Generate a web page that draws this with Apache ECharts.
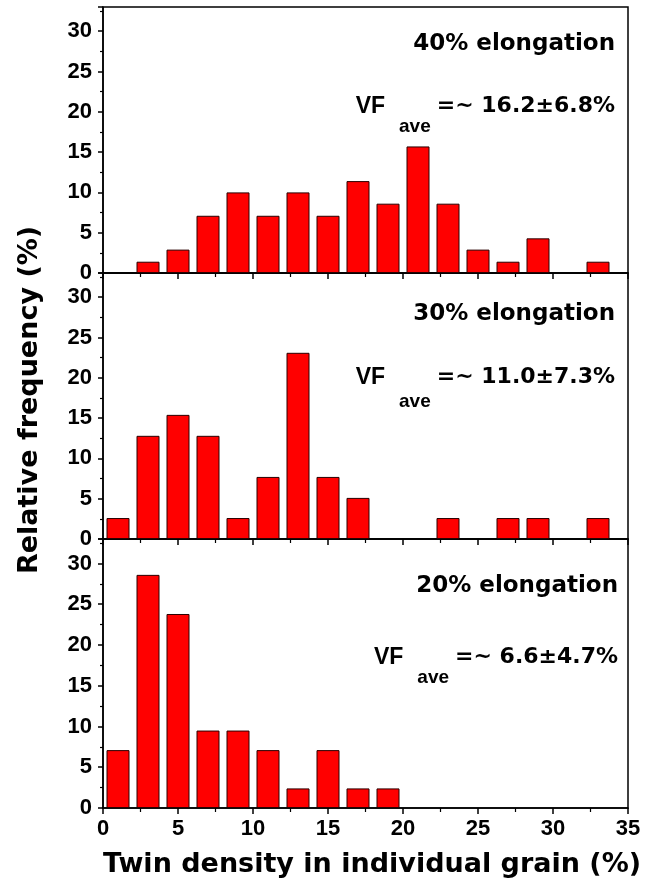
<!DOCTYPE html>
<html>
<head>
<meta charset="utf-8">
<script src="https://cdn.jsdelivr.net/npm/echarts@6/dist/echarts.min.js"></script>
<style>
  html, body { margin: 0; padding: 0; background: #ffffff; }
  #chart { width: 658px; height: 893px; }
</style>
</head>
<body>
<div id="chart"></div>
<script>
// Histogram bins: twin density (%) per grain, bin centres (bin width 2 %)
const binCenters = [1, 3, 5, 7, 9, 11, 13, 15, 17, 19, 21, 23, 25, 27, 29, 31, 33];

// Relative frequency (%) in each bin
const elong40 = [0, 1.4, 2.9, 7.1, 10.0, 7.1, 10.0, 7.1, 11.4, 8.6, 15.7, 8.6, 2.9, 1.4, 4.3, 0, 1.4];
const elong30 = [2.6, 12.8, 15.4, 12.8, 2.6, 7.7, 23.1, 7.7, 5.1, 0, 0, 2.6, 0, 2.6, 2.6, 0, 2.6];
const elong20 = [7.1, 28.6, 23.8, 9.5, 9.5, 7.1, 2.4, 7.1, 2.4, 2.4, 0, 0, 0, 0, 0, 0, 0];

// Panel captions and mean twin volume fraction
const panelLabels = ['40% elongation', '30% elongation', '20% elongation'];
const vfAverages = ['16.2±6.8%', '11.0±7.3%', '6.6±4.7%'];

// Axis ranges and tick steps
const xMin = 0, xMax = 35, xStep = 5;
const yMin = 0, yMax = 33, yStep = 5;

const panels = [elong40, elong30, elong20];

const TICK_FONT = '"Liberation Sans", Arial, sans-serif';
const TEXT_FONT = '"DejaVu Sans", "Liberation Sans", sans-serif';

// Panel geometry (stacked, sharing borders)
const gridLeft = 103, gridRight = 30;
const gridTops = [7, 273, 539];
const gridHeights = [266, 266, 269];

const grids = [], xAxes = [], yAxes = [], series = [];

panels.forEach((values, i) => {
  const last = i === panels.length - 1;
  grids.push({
    left: gridLeft, right: gridRight, top: gridTops[i], height: gridHeights[i],
    show: true, borderColor: '#000', borderWidth: 1.5, backgroundColor: 'transparent'
  });
  xAxes.push({
    type: 'value', gridIndex: i, min: xMin, max: xMax, interval: xStep,
    axisLine: { show: true, onZero: false, lineStyle: { color: '#000', width: 1.5 } },
    axisTick: { show: true, inside: false, length: 6, lineStyle: { color: '#000', width: 1.5 } },
    minorTick: { show: true, splitNumber: 2, length: 4, lineStyle: { color: '#000', width: 1.2 } },
    splitLine: { show: false },
    axisLabel: {
      show: last, color: '#000', fontFamily: TICK_FONT, fontWeight: 'bold', fontSize: 22, margin: 10
    },
    name: last ? 'Twin density in individual grain (%)' : '',
    nameLocation: 'middle', nameGap: 43,
    nameTextStyle: {
      color: '#000', fontFamily: TEXT_FONT, fontWeight: 'bold', fontSize: 27,
      padding: [0, 0, 0, 13]
    }
  });
  yAxes.push({
    type: 'value', gridIndex: i, min: yMin, max: yMax, interval: yStep,
    axisLine: { show: true, lineStyle: { color: '#000', width: 1.5 } },
    axisTick: { show: true, inside: false, length: 5, lineStyle: { color: '#000', width: 1.5 } },
    minorTick: { show: true, splitNumber: 2, length: 3, lineStyle: { color: '#000', width: 1.2 } },
    splitLine: { show: false },
    axisLabel: {
      color: '#000', fontFamily: TICK_FONT, fontWeight: 'bold', fontSize: 22, margin: 11,
      formatter: v => (v % yStep === 0 ? String(v) : '')
    }
  });
  series.push({
    type: 'bar', xAxisIndex: i, yAxisIndex: i,
    barWidth: 23,
    itemStyle: { color: '#ff0000', borderColor: '#2a0000', borderWidth: 1 },
    data: binCenters.map((c, k) => [c, values[k]]).filter(d => d[1] > 0),
    silent: true, animation: false
  });
});

// Caption positions per panel (text right edge, caption centre, VF line centre, subscript drop)
const captionRight = [615, 615, 618];
const captionY = [44, 314, 586];
const vfY = [106, 377, 657];
const subDrop = [22, 26, 22];

const graphics = [];
panelLabels.forEach((label, i) => {
  graphics.push({
    type: 'text', x: captionRight[i], y: captionY[i], silent: true,
    style: {
      text: label, align: 'right', verticalAlign: 'middle',
      fill: '#000', font: 'bold 23px ' + TEXT_FONT
    }
  });
  graphics.push({
    type: 'text', x: captionRight[i], y: vfY[i] - 11, silent: true,
    style: {
      text: '{f|VF}{s|ave}{v|=~ ' + vfAverages[i] + '}',
      align: 'right', verticalAlign: 'top', fill: '#000',
      rich: {
        f: { fontFamily: TICK_FONT, fontWeight: 'bold', fontSize: 23, verticalAlign: 'top', fill: '#000' },
        v: { fontFamily: TEXT_FONT, fontWeight: 'bold', fontSize: 22, verticalAlign: 'top', fill: '#000' },
        s: { fontFamily: TICK_FONT, fontWeight: 'bold', fontSize: 19, verticalAlign: 'top',
             padding: [subDrop[i], 6, 0, 14], fill: '#000' }
      }
    }
  });
});

// Shared vertical axis title
graphics.push({
  type: 'text', x: 30, y: 400, rotation: Math.PI / 2, silent: true,
  style: {
    text: 'Relative frequency (%)', align: 'center', verticalAlign: 'middle',
    fill: '#000', font: 'bold 27px ' + TEXT_FONT
  }
});

const chart = echarts.init(document.getElementById('chart'), null, { renderer: 'canvas' });
chart.setOption({
  backgroundColor: '#ffffff',
  animation: false,
  grid: grids,
  xAxis: xAxes,
  yAxis: yAxes,
  series: series,
  graphic: graphics
});
</script>
</body>
</html>
